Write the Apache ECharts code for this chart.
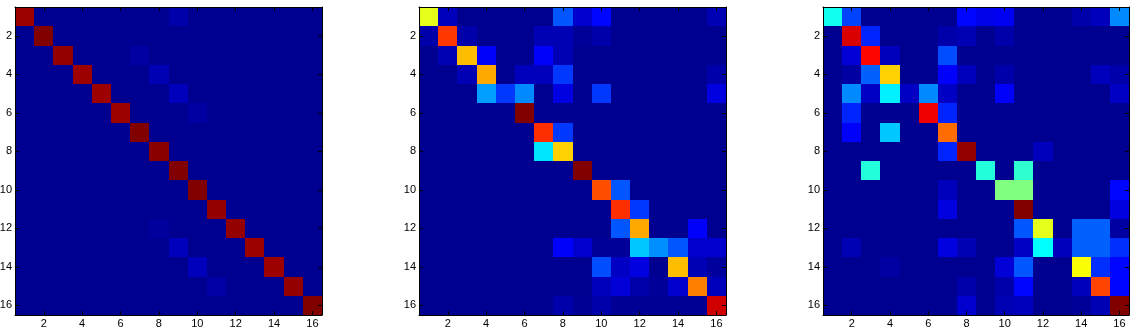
<!DOCTYPE html>
<html><head><meta charset="utf-8">
<style>html,body{margin:0;padding:0;background:#fff}#c{width:1135px;height:330px}</style>
<script src="https://cdn.jsdelivr.net/npm/echarts@6/dist/echarts.min.js"></script>
</head><body><div id="c"></div>
<script>
const labels = ['1','2','3','4','5','6','7','8','9','10','11','12','13','14','15','16'];
const jetStops = ['#000090','#0000ff','#0080ff','#00ffff','#80ff80','#ffff00','#ff8000','#ff0000','#800000'];

const matrixA = [
[.97,0,0,0,0,0,0,0,.03,0,0,0,0,0,0,0],
[0,1,0,0,0,0,0,0,0,0,0,0,0,0,0,0],
[0,0,.98,0,0,0,.02,0,0,0,0,0,0,0,0,0],
[0,0,0,.97,0,0,0,.04,0,0,0,0,0,0,0,0],
[0,0,0,0,.97,0,0,0,.05,0,0,0,0,0,0,0],
[0,0,0,0,0,.97,0,0,0,.02,0,0,0,0,0,0],
[0,0,0,0,0,0,1,0,0,0,0,0,0,0,0,0],
[0,0,0,0,0,0,0,.99,0,0,0,0,0,0,0,0],
[0,0,0,0,0,0,0,0,1,0,0,0,0,0,0,0],
[0,0,0,0,0,0,0,0,0,1,0,0,0,0,0,0],
[0,0,0,0,0,0,0,0,0,0,.98,0,0,0,0,0],
[0,0,0,0,0,0,0,.015,0,0,0,.98,0,0,0,0],
[0,0,0,0,0,0,0,0,.05,0,0,0,.97,0,0,0],
[0,0,0,0,0,0,0,0,0,.05,0,0,0,.97,0,0],
[0,0,0,0,0,0,0,0,0,0,.025,0,0,0,.98,0],
[0,0,0,0,0,0,0,0,0,0,0,0,0,0,0,1]];

const matrixB = [
[.6,.05,0,0,0,0,0,.21,.07,.13,0,0,0,0,0,.04],
[.03,.82,.03,0,0,0,.04,.04,.01,.03,0,0,0,0,0,0],
[0,.04,.69,.12,0,0,.12,.04,0,0,0,0,0,0,0,0],
[0,0,.04,.71,0,.05,.05,.18,0,0,0,0,0,0,0,.03],
[0,0,0,.28,.18,.26,0,.09,0,.18,0,0,0,0,0,.09],
[0,0,0,0,0,1,0,0,0,0,0,0,0,0,0,0],
[0,0,0,0,0,0,.83,.18,0,0,0,0,0,0,0,0],
[0,0,0,0,0,0,.35,.67,0,0,0,0,0,0,0,0],
[0,0,0,0,0,0,0,0,1,0,0,0,0,0,0,0],
[0,0,0,0,0,0,0,0,0,.8,.21,0,0,0,0,0],
[0,0,0,0,0,0,0,0,0,0,.83,.18,0,0,0,0],
[0,0,0,0,0,0,0,0,0,0,.21,.71,0,0,.12,0],
[0,0,0,0,0,0,0,.12,.07,.01,.01,.32,.265,.21,.07,.07],
[0,0,0,0,0,0,0,0,0,.2,.06,.09,0,.69,.04,.015],
[0,0,0,0,0,0,0,0,0,.05,.08,.03,.01,.07,.75,.05],
[0,0,0,0,0,0,0,.03,.005,.03,.005,.005,.005,.005,.005,.92]];

const matrixC = [
[.39,.19,0,0,0,0,0,.13,.1,.11,0,0,0,.03,.05,.26],
[0,.91,.16,0,0,0,.03,.04,0,.03,0,0,0,0,0,0],
[0,.08,.87,.05,0,0,.2,0,0,0,0,0,0,0,0,0],
[0,.02,.22,.67,0,0,.12,.05,0,.03,0,0,0,0,.05,.03],
[0,.26,.06,.36,.06,.26,.06,0,0,.12,0,0,0,0,0,.06],
[0,.16,0,0,0,.89,.16,0,0,0,0,0,0,0,0,0],
[0,.12,0,.32,0,0,.77,0,0,0,0,0,0,0,0,0],
[0,0,0,0,0,0,.16,.98,0,0,0,.05,0,0,0,0],
[0,0,.41,0,0,0,0,0,.41,0,.42,0,0,0,0,0],
[0,0,0,0,0,0,.05,0,0,.5,.5,0,0,0,0,.13],
[0,0,0,0,0,0,.09,0,0,0,1,0,0,0,0,.09],
[0,0,0,0,0,0,0,0,0,0,.21,.6,0,.22,.22,.02],
[0,.04,0,0,0,0,.09,.04,0,0,.06,.375,.05,.22,.22,.17],
[0,0,0,.02,0,0,0,0,0,.08,.21,0,0,.62,.17,.13],
[0,0,0,0,0,0,0,.03,0,.03,.13,0,0,.05,.81,.13],
[0,0,0,0,0,0,0,.07,0,.04,.05,0,0,.01,.04,1]];

const panels = [matrixA, matrixB, matrixC];
const frames = [[15,307],[419,307],[823,306]];
const grid=[],xAxis=[],yAxis=[],series=[];
const showEven=(i)=>(i%2===1);
function renderCell(params,api){
  const c=api.value(0), r=api.value(1);
  const p=api.coord([c,r]), s=api.size([1,1]);
  const x0=Math.round(p[0]-s[0]/2), x1=Math.round(p[0]+s[0]/2);
  const y0=Math.round(p[1]-s[1]/2), y1=Math.round(p[1]+s[1]/2);
  return {type:'rect',shape:{x:x0,y:y0,width:x1-x0,height:y1-y0},style:{fill:api.visual('color')},silent:true};
}
panels.forEach((m,p)=>{
  grid.push({left:frames[p][0],top:7,width:frames[p][1],height:308,outerBoundsMode:'none'});
  const line={show:true,lineStyle:{color:'#000',width:1}};
  const tick={show:true,inside:true,length:4,alignWithLabel:true,interval:showEven,lineStyle:{color:'#000',width:1}};
  const lab={show:true,interval:showEven,color:'#000',fontSize:11,fontFamily:'"Liberation Sans",Arial,sans-serif'};
  xAxis.push({type:'category',gridIndex:p,data:labels,position:'bottom',axisLine:line,axisTick:tick,axisLabel:{...lab,margin:3},splitLine:{show:false},z:5});
  xAxis.push({type:'category',gridIndex:p,data:labels,position:'top',axisLine:line,axisTick:tick,axisLabel:{show:false},splitLine:{show:false},z:5});
  yAxis.push({type:'category',gridIndex:p,data:labels,inverse:true,position:'left',axisLine:line,axisTick:tick,axisLabel:{...lab,margin:3},splitLine:{show:false},z:5});
  yAxis.push({type:'category',gridIndex:p,data:labels,inverse:true,position:'right',axisLine:line,axisTick:tick,axisLabel:{show:false},splitLine:{show:false},z:5});
  const data=[];
  m.forEach((row,r)=>row.forEach((v,c)=>data.push([c,r,v])));
  series.push({type:'custom',xAxisIndex:p*2,yAxisIndex:p*2,data,encode:{x:0,y:1},renderItem:renderCell,clip:false,animation:false,silent:true,z:2});
});
const chart=echarts.init(document.getElementById('c'),null,{renderer:'canvas'});
chart.setOption({animation:false,backgroundColor:'#fff',grid,xAxis,yAxis,series,
  visualMap:{show:false,type:'continuous',min:0,max:1,dimension:2,seriesIndex:[0,1,2],inRange:{color:jetStops}}});
</script></body></html>
